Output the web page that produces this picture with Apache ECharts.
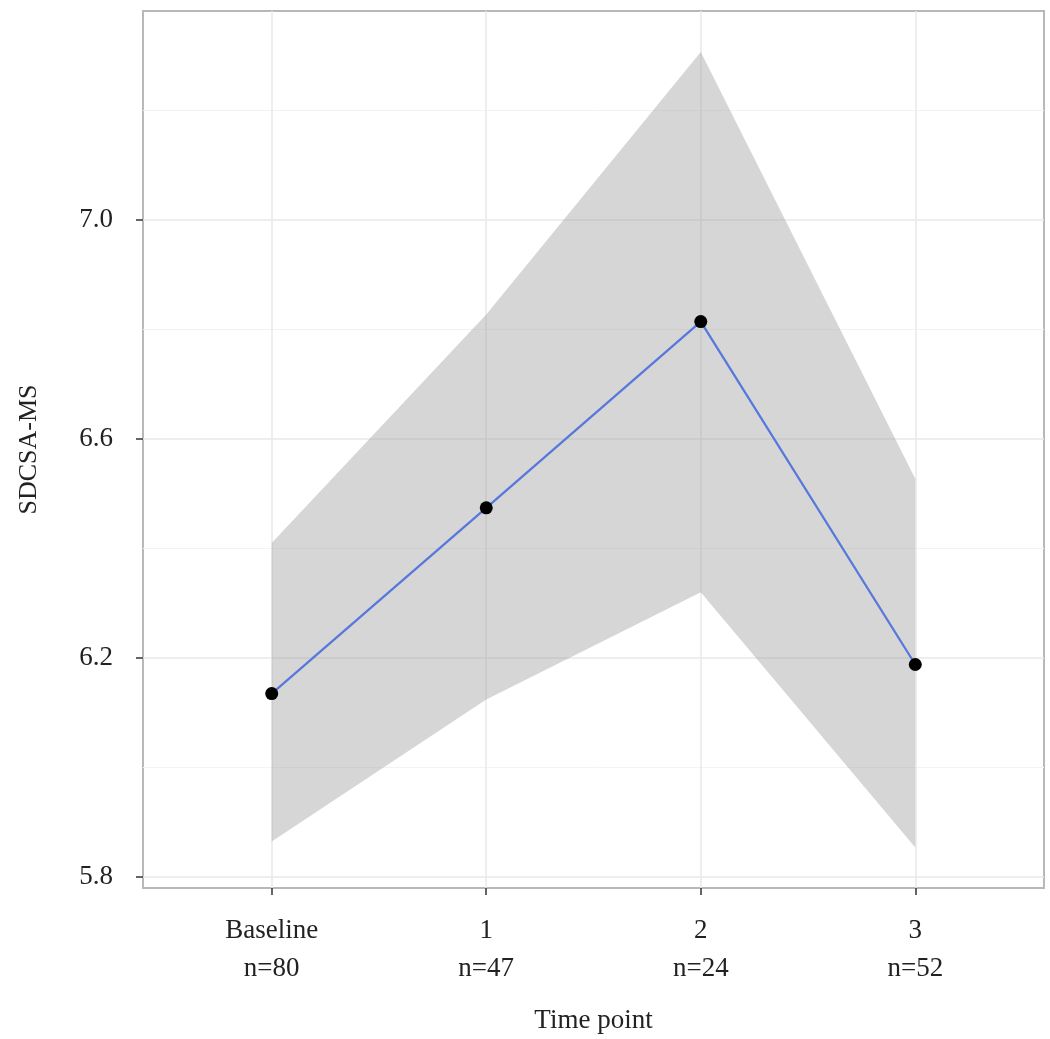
<!DOCTYPE html>
<html>
<head>
<meta charset="utf-8">
<script src="https://cdn.jsdelivr.net/npm/echarts@6/dist/echarts.min.js"></script>
<style>
  html, body { margin: 0; padding: 0; background: #fff; }
  #chart { width: 1050px; height: 1039px; }
</style>
</head>
<body>
<div id="chart"></div>
<script>
// time points (x positions 0..3) and their labels
const timeLabels = ['Baseline', '1', '2', '3'];
const sampleSizes = ['n=80', 'n=47', 'n=24', 'n=52'];
const timeX = [0, 1, 2, 3];

// mean SDCSA-MS and confidence band
const meanScore = [6.135, 6.474, 6.814, 6.188];
const bandLower = [5.865, 6.124, 6.320, 5.854];
const bandUpper = [6.410, 6.827, 7.306, 6.527];

const yMajor = [5.8, 6.2, 6.6, 7.0];
const yMinor = [6.0, 6.4, 6.8, 7.2];

const fontFam = '"Liberation Serif", "DejaVu Serif", serif';

const chart = echarts.init(document.getElementById('chart'));

const bandData = timeX.map((x, i) => [x, bandLower[i], bandUpper[i]]);
const meanData = timeX.map((x, i) => [x, meanScore[i]]);

// the ribbon is one polygon: upper edge left->right, lower edge back
function renderBand(params, api) {
  if (params.dataIndex !== 0) return;
  const pts = [];
  for (let i = 0; i < timeX.length; i++) pts.push(api.coord([timeX[i], bandUpper[i]]));
  for (let i = timeX.length - 1; i >= 0; i--) pts.push(api.coord([timeX[i], bandLower[i]]));
  return {
    type: 'polygon',
    shape: { points: pts },
    style: { fill: 'rgba(153,153,153,0.4)' }
  };
}

const option = {
  animation: false,
  grid: {
    left: 143, top: 11, right: 6, bottom: 145,
    show: true, borderColor: '#b8b8b8', borderWidth: 2, backgroundColor: '#fff'
  },
  xAxis: [{
    type: 'value', min: -0.6, max: 3.6,
    name: 'Time point', nameLocation: 'middle', nameGap: 119,
    nameTextStyle: { fontFamily: fontFam, fontSize: 27, color: '#222' },
    axisLine: { show: false, onZero: false },
    axisTick: { show: true, customValues: timeX, length: 7, lineStyle: { color: '#333', width: 1.5 } },
    axisLabel: {
      customValues: timeX, margin: 24, lineHeight: 38,
      fontFamily: fontFam, fontSize: 27, color: '#222',
      formatter: v => timeLabels[Math.round(v)] + '\n' + sampleSizes[Math.round(v)]
    },
    splitLine: { show: true, lineStyle: { color: '#e8e8e8', width: 1.5 } }
  }],
  yAxis: [{
    type: 'value', min: 5.78, max: 7.381,
    name: 'SDCSA-MS', nameLocation: 'middle', nameGap: 101, nameRotate: 90,
    nameTextStyle: { fontFamily: fontFam, fontSize: 26, color: '#222' },
    axisLine: { show: false, onZero: false },
    axisTick: { show: true, customValues: yMajor, length: 7, lineStyle: { color: '#333', width: 1.5 } },
    axisLabel: {
      customValues: yMajor, margin: 30,
      fontFamily: fontFam, fontSize: 27, color: '#222',
      formatter: v => v.toFixed(1)
    },
    splitLine: { show: true, lineStyle: { color: '#e8e8e8', width: 1.5 } }
  }, {
    type: 'value', min: 5.78, max: 7.381, position: 'left',
    axisLine: { show: false, onZero: false },
    axisTick: { show: false, customValues: yMinor },
    axisLabel: { show: false, customValues: yMinor },
    splitLine: { show: true, lineStyle: { color: '#f3f3f3', width: 1 } }
  }],
  series: [
    {
      name: 'band', type: 'custom', data: bandData,
      encode: { x: 0, y: [1, 2] },
      renderItem: renderBand, silent: true, z: 1
    },
    {
      name: 'mean', type: 'line', data: meanData,
      symbol: 'circle', symbolSize: 13,
      itemStyle: { color: '#000' },
      lineStyle: { color: '#5878dc', width: 2.3 },
      z: 5
    }
  ]
};

chart.setOption(option);
</script>
</body>
</html>
